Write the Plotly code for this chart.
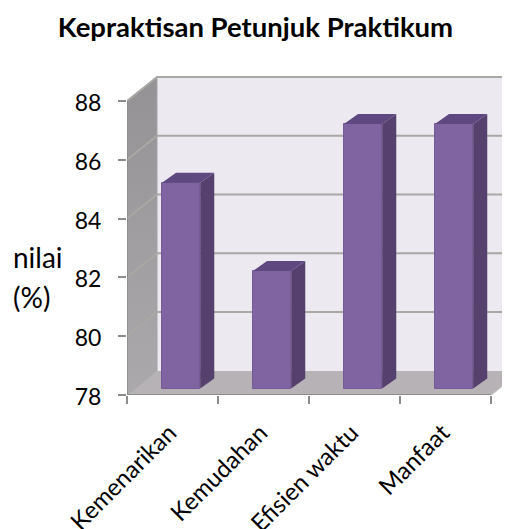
"""
plot.py - Kepraktisan Petunjuk Praktikum, Excel style pseudo 3D columns
"""

import plotly.graph_objects as go

CATEGORIES = ["Kemenarikan", "Kemudahan", "Efisien waktu", "Manfaat"]
VALUES = [85, 82, 87, 87]
Y_TICKS = [78, 80, 82, 84, 86, 88]

# ── Colours ───────────────────────────────────────────────────────────────────
WALL = "#ECE9F1"
FLOOR = "#B6B2B6"
GRID = "#A8A8A4"
AXIS = "#8C8C8C"
BAR_FRONT = "#8063A1"
BAR_TOP = "#5F4780"
BAR_SIDE = "#55406E"

# ── Pseudo 3D depth, in axis units ────────────────────────────────────────────
X_MIN, Y_MIN, Y_MAX = -0.5, 78, 88
X_MAX = 3.5
WALL_DX, WALL_DY = 0.33, 0.82    # offset of the back wall
BAR_DX, BAR_DY = 0.094, 0.22     # offset of the bar front from the axis plane
SIDE_DX, SIDE_DY = 0.155, 0.34   # depth of a bar
BAR_W = 0.42


def poly(fig, xs, ys, color, zorder=0, **kw):
    fig.add_trace(go.Scatter(
        x=xs, y=ys, fill="toself", fillcolor=color, mode="none",
        hoverinfo="skip", showlegend=False, zorder=zorder, **kw,
    ))


def line(fig, xs, ys, color, width=2, zorder=0):
    fig.add_trace(go.Scatter(
        x=xs, y=ys, mode="lines", line=dict(color=color, width=width),
        hoverinfo="skip", showlegend=False, zorder=zorder, cliponaxis=False,
    ))


fig = go.Figure()

# back wall
bx0, bx1 = X_MIN + WALL_DX, X_MAX + WALL_DX
by0, by1 = Y_MIN + WALL_DY, Y_MAX + WALL_DY
poly(fig, [bx0, bx1, bx1, bx0], [by0, by0, by1, by1], WALL)

# side wall
poly(fig, [X_MIN, bx0, bx0, X_MIN], [Y_MIN, by0, by1, Y_MAX], "#A09EA0",
     fillgradient=dict(type="vertical",
                       colorscale=[[0, "#ABA9AB"], [1, "#949295"]]))

# floor
poly(fig, [X_MIN, X_MAX, bx1, bx0], [Y_MIN, Y_MIN, by0, by0], FLOOR)

# gridlines, running along the side wall then the back wall
for t in Y_TICKS[1:]:
    line(fig, [X_MIN, bx0, bx1], [t, t + WALL_DY, t + WALL_DY], GRID, 2)
line(fig, [X_MIN, bx0, bx0], [Y_MIN, by0, by1], "#A6A6A6", 1)

# axis lines
line(fig, [X_MIN, X_MIN], [Y_MIN, Y_MAX], AXIS, 1.5)
line(fig, [X_MIN, X_MAX], [Y_MIN, Y_MIN], AXIS, 2)
line(fig, [X_MAX, bx1], [Y_MIN, by0], "#C4C2C4", 1.5)

# bars
positions = [i + BAR_DX for i in range(len(CATEGORIES))]
fig.add_trace(go.Bar(
    x=positions,
    y=[v - Y_MIN for v in VALUES],
    base=Y_MIN + BAR_DY,
    width=BAR_W,
    marker=dict(color=BAR_FRONT, line=dict(color="#755A96", width=1)),
    hoverinfo="skip",
    showlegend=False,
    zorder=1,
))
for pos, v in zip(positions, VALUES):
    x0, x1 = pos - BAR_W / 2, pos + BAR_W / 2
    lo, hi = Y_MIN + BAR_DY, v + BAR_DY
    poly(fig, [x1, x1 + SIDE_DX, x1 + SIDE_DX, x1],
         [lo, lo + SIDE_DY, hi + SIDE_DY, hi], BAR_SIDE, zorder=2)
    poly(fig, [x0, x1, x1 + SIDE_DX, x0 + SIDE_DX],
         [hi, hi, hi + SIDE_DY, hi + SIDE_DY], BAR_TOP, zorder=2)

# the page body has an 8px margin, so the figure is 8px smaller each way
fig.update_layout(
    width=502, height=521,
    margin=dict(l=119, r=0, t=62, b=134),
    paper_bgcolor="white", plot_bgcolor="white",
    font=dict(family="Lato", color="#000000", size=24),
    title=dict(text="<b>Kepraktisan Petunjuk Praktikum</b>",
               x=0.493, xref="container", xanchor="center",
               y=0.962, yanchor="middle",
               font=dict(family="Lato", size=27.5)),
    showlegend=False,
    bargap=0,
    annotations=[
        dict(text="nilai", xref="paper", yref="paper", x=-0.303, y=0.4246,
             xanchor="left", yanchor="middle", showarrow=False,
             font=dict(family="Lato", size=28)),
        dict(text="(%)", xref="paper", yref="paper", x=-0.303, y=0.3015,
             xanchor="left", yanchor="middle", showarrow=False,
             font=dict(family="Lato", size=28)),
    ],
)
fig.update_xaxes(
    range=[X_MIN, 3.709], showgrid=False, zeroline=False, showline=False,
    automargin=False,
    tickvals=list(range(len(CATEGORIES))), ticktext=CATEGORIES,
    tickangle=-45, ticks="", tickfont=dict(family="Lato", size=24),
    ticklabelstandoff=18, ticklabelshift=-3,
    minor=dict(tickvals=[-0.5, 0.5, 1.5, 2.5, 3.5], ticks="outside",
               ticklen=8, tickcolor=AXIS, tickwidth=1.5, showgrid=False),
)
fig.update_yaxes(
    range=[Y_MIN, 89.054], showgrid=False, zeroline=False, showline=False,
    automargin=False,
    tickvals=Y_TICKS, ticks="outside", ticklen=8, tickcolor=AXIS, tickwidth=1.5,
    tickfont=dict(family="Lato", size=23), ticklabelstandoff=12,
    ticklabelshift=2,
)

fig.write_html("out.html")
